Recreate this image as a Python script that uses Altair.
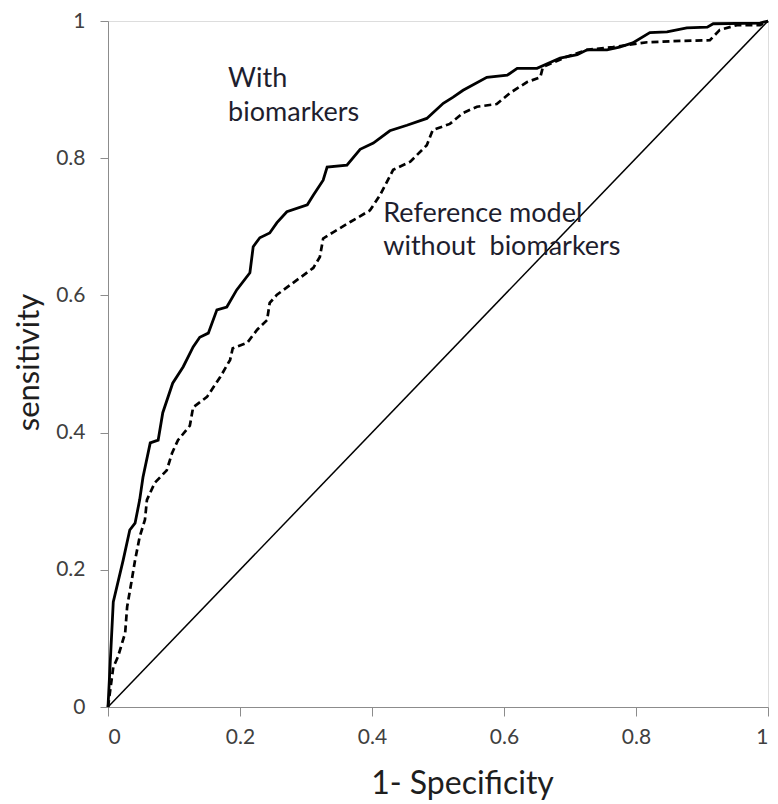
import altair as alt
import pandas as pd

# ROC curve: model with biomarkers (solid)
x_with = [0, 0.008, 0.023, 0.033, 0.041, 0.048, 0.053, 0.064, 0.076, 0.083,
          0.098, 0.114, 0.129, 0.139, 0.152, 0.165, 0.180, 0.195, 0.215, 0.220,
          0.230, 0.245, 0.256, 0.271, 0.302, 0.311, 0.326, 0.332, 0.362, 0.382,
          0.402, 0.427, 0.453, 0.483, 0.508, 0.523, 0.538, 0.574, 0.605, 0.620,
          0.650, 0.685, 0.711, 0.726, 0.756, 0.775, 0.795, 0.821, 0.847, 0.877,
          0.908, 0.917, 0.988, 1.0]
y_with = [0, 0.153, 0.214, 0.258, 0.268, 0.302, 0.335, 0.385, 0.389, 0.429,
          0.472, 0.496, 0.525, 0.539, 0.545, 0.579, 0.583, 0.608, 0.633, 0.671,
          0.684, 0.691, 0.706, 0.722, 0.732, 0.746, 0.768, 0.787, 0.790, 0.813,
          0.822, 0.840, 0.848, 0.858, 0.880, 0.889, 0.899, 0.918, 0.921, 0.931,
          0.931, 0.946, 0.951, 0.958, 0.958, 0.962, 0.968, 0.983, 0.984, 0.990,
          0.991, 0.996, 0.997, 1.0]

# ROC curve: reference model without biomarkers (dashed)
x_wo = [0, 0.008, 0.015, 0.026, 0.029, 0.036, 0.041, 0.048, 0.056, 0.059,
        0.071, 0.089, 0.097, 0.106, 0.124, 0.129, 0.150, 0.170, 0.185, 0.189,
        0.211, 0.226, 0.241, 0.245, 0.256, 0.280, 0.311, 0.321, 0.326, 0.341,
        0.367, 0.397, 0.412, 0.432, 0.458, 0.483, 0.492, 0.518, 0.538, 0.559,
        0.589, 0.609, 0.635, 0.655, 0.659, 0.695, 0.726, 0.765, 0.817, 0.867,
        0.912, 0.927, 0.953, 0.988, 1.0]
y_wo = [0, 0.058, 0.073, 0.108, 0.146, 0.185, 0.214, 0.248, 0.273, 0.302,
        0.327, 0.345, 0.370, 0.389, 0.410, 0.437, 0.452, 0.481, 0.506, 0.523,
        0.531, 0.550, 0.564, 0.589, 0.601, 0.618, 0.640, 0.656, 0.683, 0.692,
        0.707, 0.724, 0.746, 0.783, 0.795, 0.819, 0.841, 0.850, 0.866, 0.875,
        0.879, 0.895, 0.911, 0.918, 0.933, 0.948, 0.958, 0.962, 0.969, 0.971,
        0.972, 0.987, 0.994, 0.994, 1.0]

# chance diagonal
x_diag = [0, 1]
y_diag = [0, 1]

tick_values = [0, 0.2, 0.4, 0.6, 0.8, 1]

# annotation texts
ann_text = ["With", "biomarkers", "Reference model", "without\u00a0 biomarkers"]
ann_x = [0.182, 0.182, 0.417, 0.417]
ann_y = [0.904, 0.854, 0.707, 0.659]

df_with = pd.DataFrame({"x": x_with, "y": y_with, "i": range(len(x_with))})
df_wo = pd.DataFrame({"x": x_wo, "y": y_wo, "i": range(len(x_wo))})
df_diag = pd.DataFrame({"x": x_diag, "y": y_diag, "i": range(len(x_diag))})
df_ann = pd.DataFrame({"x": ann_x, "y": ann_y, "t": ann_text})

FONT = "Lato"

xscale = alt.Scale(domain=[0, 1], nice=False, zero=True)
yscale = alt.Scale(domain=[0, 1], nice=False, zero=True)

xaxis = alt.Axis(
    values=tick_values, format="~g", grid=False,
    domainColor="#8c8c8c", tickColor="#8c8c8c", tickSize=9,
    labelFont=FONT, labelFontSize=21, labelColor="#404040", labelPadding=10,
    title="1- Specificity", titleFont=FONT, titleFontSize=32, titleFontWeight="normal",
    titleColor="#1e1e1e", titleX=354, titleY=86, titleAlign="center",
    titleBaseline="alphabetic", titleAnchor="start",
)
yaxis = alt.Axis(
    values=tick_values, format="~g", grid=False,
    domainColor="#8c8c8c", tickColor="#8c8c8c", tickSize=8,
    labelFont=FONT, labelFontSize=21, labelColor="#404040", labelPadding=15,
    title="sensitivity", titleFont=FONT, titleFontSize=31, titleFontWeight="normal",
    titleColor="#1e1e1e", titleX=-70, titleY=341, titleAngle=270, titleAlign="center",
    titleBaseline="alphabetic", titleAnchor="start",
)

base_x = alt.X("x:Q", scale=xscale, axis=xaxis)
base_y = alt.Y("y:Q", scale=yscale, axis=yaxis)

diag = alt.Chart(df_diag).mark_line(color="black", strokeWidth=1.5).encode(
    x=base_x, y=base_y, order="i:Q")
wo = alt.Chart(df_wo).mark_line(color="black", strokeWidth=2.7, strokeDash=[7, 4]).encode(
    x="x:Q", y="y:Q", order="i:Q")
wi = alt.Chart(df_with).mark_line(color="black", strokeWidth=2.8).encode(
    x="x:Q", y="y:Q", order="i:Q")
ann = alt.Chart(df_ann).mark_text(
    align="left", baseline="alphabetic", font=FONT, fontSize=27, color="#1e1e2e"
).encode(x="x:Q", y="y:Q", text="t:N")

chart = alt.layer(diag, wo, wi, ann).properties(
    width=660, height=686,
    padding={"left": 100, "top": 13, "right": 2, "bottom": 96},
    autosize="none",
).configure_view(stroke=None).configure(background="white")

chart.save("out.html", embed_options={"renderer": "svg", "actions": False})
